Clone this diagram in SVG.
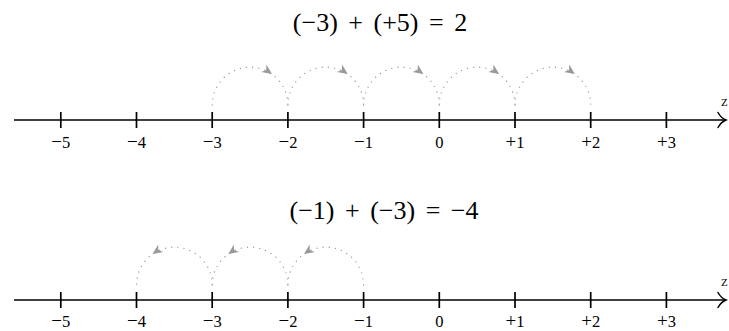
<svg xmlns="http://www.w3.org/2000/svg" width="729" height="331" viewBox="0 0 729 331">
<style>
.axis{stroke:#000;stroke-width:1.7;fill:none}
.tick{stroke:#000;stroke-width:1.7}
.tip{stroke:#000;stroke-width:1.5;fill:none;stroke-linecap:round}
.jump{stroke:#999;stroke-width:1.4;fill:none;stroke-dasharray:0 6.2;stroke-linecap:round}
.lbl{font-family:"Liberation Serif","DejaVu Serif",serif;font-size:16.5px;text-anchor:middle;fill:#000}
.sg{font-size:19px}
.ttl{font-family:"Liberation Serif","DejaVu Serif",serif;font-size:26px;fill:#000;text-anchor:middle;word-spacing:4px}
.z{font-family:"Liberation Serif",serif;font-size:11px;fill:#000}
.ah{fill:#999;stroke:none}
</style>
<defs>
<path id="ah" d="M0,0 L-10,-4.5 L-7,0 L-10,4.5 Z"/>
</defs>

<g id="title-top">
<text class="ttl" x="380" y="31">(−3) + (+5) = 2</text>
</g>
<g id="title-bottom">
<text class="ttl" x="384" y="219">(−1) + (−3) = −4</text>
</g>

<g id="axis-top">
<line class="axis" x1="14" y1="120" x2="725" y2="120"/>
<path class="tip" d="M718,112.5 Q721,118 726,120 Q721,122 718,127.5"/>
<text class="z" x="721" y="106">Z</text>
<g class="tick">
<line x1="60.8" y1="112" x2="60.8" y2="128"/>
<line x1="136.5" y1="112" x2="136.5" y2="128"/>
<line x1="212.2" y1="112" x2="212.2" y2="128"/>
<line x1="287.9" y1="112" x2="287.9" y2="128"/>
<line x1="363.6" y1="112" x2="363.6" y2="128"/>
<line x1="439.3" y1="112" x2="439.3" y2="128"/>
<line x1="515" y1="112" x2="515" y2="128"/>
<line x1="590.7" y1="112" x2="590.7" y2="128"/>
<line x1="666.4" y1="112" x2="666.4" y2="128"/>
</g>
<text class="lbl" x="60.8" y="148"><tspan class="sg">−</tspan>5</text>
<text class="lbl" x="136.5" y="148"><tspan class="sg">−</tspan>4</text>
<text class="lbl" x="212.2" y="148"><tspan class="sg">−</tspan>3</text>
<text class="lbl" x="287.9" y="148"><tspan class="sg">−</tspan>2</text>
<text class="lbl" x="363.6" y="148"><tspan class="sg">−</tspan>1</text>
<text class="lbl" x="439.3" y="148">0</text>
<text class="lbl" x="515" y="148"><tspan class="sg">+</tspan>1</text>
<text class="lbl" x="590.7" y="148"><tspan class="sg">+</tspan>2</text>
<text class="lbl" x="666.4" y="148"><tspan class="sg">+</tspan>3</text>
</g>

<g id="axis-bottom">
<line class="axis" x1="14" y1="300" x2="725" y2="300"/>
<path class="tip" d="M718,292.5 Q721,298 726,300 Q721,302 718,307.5"/>
<text class="z" x="721" y="286">Z</text>
<g class="tick">
<line x1="60.8" y1="292" x2="60.8" y2="308"/>
<line x1="136.5" y1="292" x2="136.5" y2="308"/>
<line x1="212.2" y1="292" x2="212.2" y2="308"/>
<line x1="287.9" y1="292" x2="287.9" y2="308"/>
<line x1="363.6" y1="292" x2="363.6" y2="308"/>
<line x1="439.3" y1="292" x2="439.3" y2="308"/>
<line x1="515" y1="292" x2="515" y2="308"/>
<line x1="590.7" y1="292" x2="590.7" y2="308"/>
<line x1="666.4" y1="292" x2="666.4" y2="308"/>
</g>
<text class="lbl" x="60.8" y="327"><tspan class="sg">−</tspan>5</text>
<text class="lbl" x="136.5" y="327"><tspan class="sg">−</tspan>4</text>
<text class="lbl" x="212.2" y="327"><tspan class="sg">−</tspan>3</text>
<text class="lbl" x="287.9" y="327"><tspan class="sg">−</tspan>2</text>
<text class="lbl" x="363.6" y="327"><tspan class="sg">−</tspan>1</text>
<text class="lbl" x="439.3" y="327">0</text>
<text class="lbl" x="515" y="327"><tspan class="sg">+</tspan>1</text>
<text class="lbl" x="590.7" y="327"><tspan class="sg">+</tspan>2</text>
<text class="lbl" x="666.4" y="327"><tspan class="sg">+</tspan>3</text>
</g>

<g id="connectors">
<path class="jump" d="M212.2,105 A37.85,37.85 0 0 1 287.9,105"/>
<path class="jump" d="M287.9,105 A37.85,37.85 0 0 1 363.6,105"/>
<path class="jump" d="M363.6,105 A37.85,37.85 0 0 1 439.3,105"/>
<path class="jump" d="M439.3,105 A37.85,37.85 0 0 1 515,105"/>
<path class="jump" d="M515,105 A37.85,37.85 0 0 1 590.7,105"/>
<use href="#ah" class="ah" transform="translate(272,74) rotate(35)"/>
<use href="#ah" class="ah" transform="translate(347.7,74) rotate(35)"/>
<use href="#ah" class="ah" transform="translate(423.4,74) rotate(35)"/>
<use href="#ah" class="ah" transform="translate(499.1,74) rotate(35)"/>
<use href="#ah" class="ah" transform="translate(574.8,74) rotate(35)"/>

<path class="jump" d="M363.6,285 A37.85,37.85 0 0 0 287.9,285"/>
<path class="jump" d="M287.9,285 A37.85,37.85 0 0 0 212.2,285"/>
<path class="jump" d="M212.2,285 A37.85,37.85 0 0 0 136.5,285"/>
<use href="#ah" class="ah" transform="translate(304,254) rotate(145)"/>
<use href="#ah" class="ah" transform="translate(228.3,254) rotate(145)"/>
<use href="#ah" class="ah" transform="translate(152.6,254) rotate(145)"/>
</g>
</svg>
